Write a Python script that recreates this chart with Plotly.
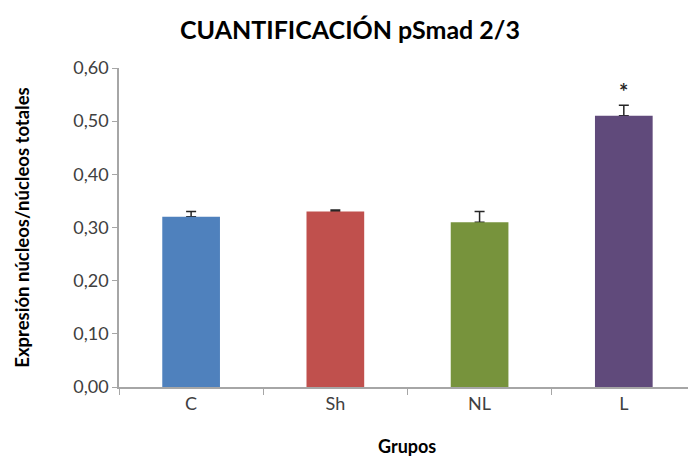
import plotly.graph_objects as go

categories = ["C", "Sh", "NL", "L"]
values = [0.32, 0.33, 0.31, 0.51]
errors = [0.010, 0.003, 0.020, 0.020]
colors = ["#4F81BD", "#C0504D", "#77933C", "#604A7B"]
significance = ["", "", "", "*"]
y_ticks = [0.0, 0.1, 0.2, 0.3, 0.4, 0.5, 0.6]

FONT = "Lato, 'Open Sans', sans-serif"

fig = go.Figure()
# error bars (drawn underneath, so the bars hide the lower end)
fig.add_trace(go.Scatter(
    x=categories, y=values, mode="markers",
    marker=dict(size=1, opacity=0),
    error_y=dict(type="data", array=errors, symmetric=False, arrayminus=[0]*4,
                 color="#262626", thickness=1.5, width=5),
    showlegend=False, hoverinfo="skip", yaxis="y",
))
fig.add_trace(go.Bar(
    x=categories, y=values,
    marker=dict(color=colors, line=dict(width=0)),
    width=0.4,
    showlegend=False, yaxis="y2",
))

for c, v, e, s in zip(categories, values, errors, significance):
    if s:
        fig.add_annotation(x=c, y=v + e, text="<b>" + s + "</b>", showarrow=False,
                           yshift=14, font=dict(family=FONT, size=22, color="#262626"))

fig.add_annotation(x=1.5, xref="x", y=-59/319, yref="paper", yanchor="middle",
                   text="<b>Grupos</b>", showarrow=False,
                   font=dict(family=FONT, size=18, color="#000000"))

fig.update_layout(
    width=688, height=457,
    margin=dict(l=119, r=0, t=68, b=70),
    paper_bgcolor="white", plot_bgcolor="white",
    separators=",.",
    title=dict(text="<b>CUANTIFICACIÓN pSmad 2/3</b>", x=350/688, xanchor="center",
               y=1 - 30/457, yanchor="middle",
               font=dict(family=FONT, size=25, color="#000000")),
    font=dict(family=FONT, size=18, color="#404040"),
    yaxis2=dict(overlaying="y", range=[0, 0.6], visible=False, showgrid=False,
                zeroline=False, automargin=False),
)
fig.update_xaxes(
    type="category", range=[-0.5, 3.445], tickson="boundaries",
    ticks="outside", ticklen=6, tickcolor="#A6A6A6",
    showline=True, linecolor="#A6A6A6", linewidth=1.5,
    showgrid=False, zeroline=False, automargin=False,
    tickfont=dict(family=FONT, size=18, color="#404040"),
)
fig.update_layout(yaxis=dict(
    range=[0, 0.6], tickvals=y_ticks, tickformat=".2f",
    ticks="outside", ticklen=5, tickcolor="#A6A6A6",
    showline=True, linecolor="#A6A6A6", linewidth=1.5,
    showgrid=False, zeroline=False, automargin=False,
    title=dict(text="<b>Expresión núcleos/núcleos totales</b>", standoff=39,
               font=dict(family=FONT, size=18.5, color="#000000")),
    tickfont=dict(family=FONT, size=18, color="#404040"),
))

fig.write_html("out.html", config={"displayModeBar": False},
               post_script="document.body.style.margin='0';")
